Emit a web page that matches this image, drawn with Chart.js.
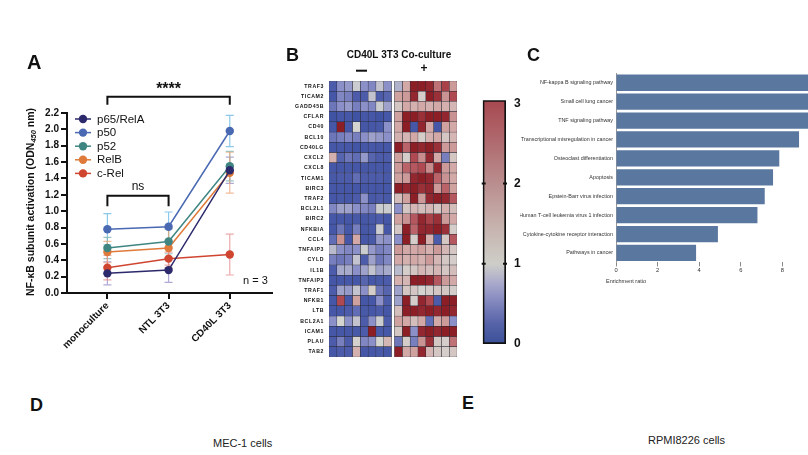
<!DOCTYPE html>
<html><head><meta charset="utf-8">
<script src="https://cdn.jsdelivr.net/npm/chart.js@4.4.1/dist/chart.umd.min.js"></script>
<style>
html,body{margin:0;padding:0;background:#fff;}
body{width:808px;height:455px;position:relative;overflow:hidden;font-family:"Liberation Sans",Arial,sans-serif;}
canvas{position:absolute;}
.lbl{position:absolute;font-weight:bold;color:#111;line-height:1;}
.cap{position:absolute;font-size:11px;color:#222;line-height:1;white-space:nowrap;}
</style></head><body>
<canvas id="cA" width="285" height="380" style="left:0px;top:0px"></canvas>
<canvas id="cB" width="200" height="330" style="left:270px;top:40px"></canvas>
<canvas id="cBar" width="55" height="275" style="left:470px;top:85px"></canvas>
<canvas id="cC" width="288" height="240" style="left:520px;top:60px"></canvas>
<div class="lbl" style="left:27px;top:52px;font-size:20px">A</div>
<div class="lbl" style="left:286px;top:46px;font-size:18px">B</div>
<div class="lbl" style="left:527px;top:46px;font-size:18px">C</div>
<div class="lbl" style="left:30px;top:396px;font-size:18px">D</div>
<div class="lbl" style="left:462px;top:394px;font-size:18px">E</div>
<div class="cap" style="left:213px;top:438px">MEC-1 cells</div>
<div class="cap" style="left:648px;top:435px">RPMI8226 cells</div>
<script>
// ---------- Panel A data ----------
const conditions = ['monoculture', 'NTL 3T3', 'CD40L 3T3'];
const subunits = ['p65/RelA', 'p50', 'p52', 'RelB', 'c-Rel'];
const p65RelA = [0.24, 0.28, 1.50];
const p50 = [0.78, 0.81, 1.98];
const p52 = [0.55, 0.63, 1.55];
const relB = [0.50, 0.55, 1.47];
const cRel = [0.31, 0.42, 0.47];
const p65RelAErr = [0.14, 0.15, 0.16];
const p50Err = [0.19, 0.18, 0.19];
const p52Err = [0.13, 0.15, 0.18];
const relBErr = [0.13, 0.24, 0.25];
const cRelErr = [0.15, 0.08, 0.25];
const yTicksA = [0, 0.2, 0.4, 0.6, 0.8, 1.0, 1.2, 1.4, 1.6, 1.8, 2.0, 2.2];
const sigBrackets = [
  {from: 0, to: 2, top: 2.40, leg: 2.30, label: '****'},
  {from: 0, to: 1, top: 1.19, leg: 1.06, label: 'ns'}
];

// ---------- Panel B data ----------
const genes = ['TRAF3','TICAM2','GADD45B','CFLAR','CD40','BCL10','CD40LG','CXCL2','CXCL8','TICAM1','BIRC3','TRAF2','BCL2L1','BIRC2','NFKBIA','CCL4','TNFAIP3','CYLD','IL1B','TNFAIP3','TRAF1','NFKB1','LTB','BCL2A1','ICAM1','PLAU','TAB2'];
const heatMinus = [
  [0.3,0.6,0.65,0.95,0.6,0.55,0.9,0.6],
  [0.2,0.55,0.5,0.3,0.3,0.9,0.3,0.35],
  [0.45,0.6,0.65,0.5,0.6,0.55,0.95,0.7],
  [0.15,0.2,0.2,0.15,0.2,0.2,0.15,0.2],
  [0.2,3.0,0.2,1.0,0.2,0.2,0.25,0.6],
  [0.45,0.5,0.55,0.5,0.6,0.7,0.65,0.6],
  [0.2,0.22,0.2,0.18,0.2,0.22,0.2,0.2],
  [1.5,0.35,0.45,0.4,0.65,0.35,0.3,0.3],
  [0.2,0.2,0.22,0.2,0.2,0.2,0.22,0.2],
  [0.25,0.3,0.3,0.4,0.3,0.3,0.3,0.25],
  [0.2,0.2,0.2,0.2,0.2,0.2,0.2,0.2],
  [0.2,0.25,0.2,0.3,0.6,0.25,0.3,0.25],
  [0.55,0.7,0.7,0.6,0.55,0.5,0.95,0.95],
  [0.2,0.2,0.2,0.25,0.2,0.25,0.3,0.2],
  [0.2,0.45,0.2,0.5,0.2,0.25,0.95,0.2],
  [0.4,1.9,0.2,1.6,0.2,0.25,0.65,0.6],
  [0.85,0.6,0.55,0.6,0.95,0.65,0.5,0.55],
  [0.5,0.45,0.5,0.9,0.3,0.7,0.45,0.55],
  [0.3,0.75,0.75,0.6,0.7,0.9,0.7,0.75],
  [0.2,0.2,0.2,0.2,0.35,0.2,0.25,0.3],
  [0.3,0.7,0.65,0.9,0.6,1.1,0.45,0.35],
  [0.2,2.5,0.2,1.7,0.2,0.2,0.6,0.3],
  [0.2,0.2,0.3,0.4,0.25,0.2,0.3,0.2],
  [0.6,1.0,0.6,0.9,0.3,0.6,0.95,0.3],
  [0.2,0.2,0.2,0.25,0.3,3.0,0.25,0.2],
  [0.3,0.5,0.3,1.05,0.55,0.6,1.0,1.4],
  [0.2,0.3,0.3,1.5,0.2,0.2,0.25,0.2]
];
const heatPlus = [
  [0.8,1.6,3,3,2.9,2.2,2.6,1.8],
  [1.7,1.8,2.9,1.1,3,2.8,1.9,2.5],
  [1.2,1.6,1.5,1.6,1.5,1.6,1.5,1.4],
  [1.7,3,3,2.8,3,3,2.9,1.9],
  [1.6,3,0.2,2.9,1.6,0.2,1.7,1.6],
  [1.5,1.4,1.6,1.1,1.5,1.6,1.2,1.4],
  [3,2.3,3,2.9,3,2.8,1.8,1.8],
  [1.7,1.1,2.5,2.0,2.9,1.6,0.5,1.2],
  [1.8,2.3,2.4,2.5,2.0,2.9,1.8,1.6],
  [1.7,1.8,2.9,3,2.9,2.3,1.9,1.6],
  [3,2.9,3,2.8,2.9,1.8,2.3,1.7],
  [1.3,1.7,3,1.8,2.9,3,2.9,2.4],
  [0.6,1.2,1.4,1.3,1.4,1.2,1.5,1.3],
  [1.7,1.9,2.4,2.9,2.6,2.8,1.8,1.6],
  [1.2,3,2.3,2.9,2.9,3,2.8,1.1],
  [0.6,3,1.1,3,1.5,0.3,1.2,2.4],
  [1.8,1.6,1.6,1.7,1.5,1.8,1.4,1.2],
  [1.6,1.5,1.6,1.5,1.8,1.4,1.2,1.1],
  [0.85,1.1,1.2,1.4,1.3,1.4,1.2,1.3],
  [1.5,1.4,3,3,2.9,2.4,1.8,1.6],
  [0.7,1.2,1.2,1.0,1.1,1.2,1.2,1.1],
  [0.7,3,1.1,2.9,2.5,0.3,3,3],
  [1.3,3,3,2.9,3,2.9,3,2.9],
  [1.7,1.6,1.3,1.6,0.4,1.6,1.8,0.6],
  [1.2,3,0.6,2.9,3,2.9,3,3],
  [0.45,1.1,0.5,1.9,2.8,1.2,1.1,2.2],
  [3,1.6,1.7,2.9,1.4,1.2,1.1,1.2]
];
const colorbarTicks = [0, 1, 2, 3];

// ---------- Panel C data ----------
const pathways = ['NF-kappa B signaling pathway','Small cell lung cancer','TNF signaling pathway','Transcriptional misregulation in cancer','Osteoclast differentiation','Apoptosis','Epstein-Barr virus infection','Human T-cell leukemia virus 1 infection','Cytokine-cytokine receptor interaction','Pathways in cancer'];
const enrichmentRatio = [10.5, 10.3, 10.0, 8.8, 7.85, 7.55, 7.15, 6.8, 4.9, 3.85];
const enrichTicks = [0, 2, 4, 6, 8];

const FONT = '"Liberation Sans", Arial, sans-serif';

// ================= Panel A =================
const seriesA = [p65RelA, p50, p52, relB, cRel];
const errA = [p65RelAErr, p50Err, p52Err, relBErr, cRelErr];
const colA = ['#2c2a6c', '#4a69b3', '#3f8683', '#df7a3a', '#cf4530'];
const errColA = ['rgba(150,140,200,0.75)', 'rgba(120,190,230,0.85)', 'rgba(120,180,175,0.75)', 'rgba(235,165,120,0.75)', 'rgba(230,140,140,0.75)'];

const plugA = {
  id: 'plugA',
  beforeDatasetsDraw(chart) {
    const ctx = chart.ctx, xs = chart.scales.x, ys = chart.scales.y;
    ctx.save();
    ctx.lineWidth = 1.2;
    seriesA.forEach((s, i) => {
      ctx.strokeStyle = errColA[i];
      s.forEach((v, j) => {
        const x = xs.getPixelForValue(j);
        const y1 = ys.getPixelForValue(v + errA[i][j]);
        const y2 = ys.getPixelForValue(v - errA[i][j]);
        ctx.beginPath();
        ctx.moveTo(x, y1); ctx.lineTo(x, y2);
        ctx.moveTo(x - 4, y1); ctx.lineTo(x + 4, y1);
        ctx.moveTo(x - 4, y2); ctx.lineTo(x + 4, y2);
        ctx.stroke();
      });
    });
    ctx.restore();
  },
  afterDraw(chart) {
    const ctx = chart.ctx, xs = chart.scales.x, ys = chart.scales.y;
    ctx.save();
    ctx.strokeStyle = '#111'; ctx.lineWidth = 2; ctx.fillStyle = '#111';
    sigBrackets.forEach(b => {
      const x1 = xs.getPixelForValue(b.from), x2 = xs.getPixelForValue(b.to);
      const yt = ys.getPixelForValue(b.top), yl = ys.getPixelForValue(b.leg);
      ctx.beginPath();
      ctx.moveTo(x1, yl); ctx.lineTo(x1, yt); ctx.lineTo(x2, yt); ctx.lineTo(x2, yl);
      ctx.stroke();
      ctx.textAlign = 'center'; ctx.textBaseline = 'alphabetic';
      if (b.label === 'ns') {
        ctx.font = '12px ' + FONT;
        ctx.fillText(b.label, (x1 + x2) / 2, yt - 6);
      } else {
        ctx.font = 'bold 16px ' + FONT;
        ctx.fillText(b.label, (x1 + x2) / 2, yt - 3);
      }
    });
    ctx.textAlign = 'left'; ctx.textBaseline = 'middle';
    ctx.font = '11.5px ' + FONT;
    subunits.forEach((name, i) => {
      const y = 119 + i * 13.6;
      ctx.strokeStyle = colA[i]; ctx.lineWidth = 1.5;
      ctx.beginPath(); ctx.moveTo(75, y); ctx.lineTo(91, y); ctx.stroke();
      ctx.fillStyle = colA[i];
      ctx.beginPath(); ctx.arc(83, y, 4.2, 0, Math.PI * 2); ctx.fill();
      ctx.fillStyle = '#111';
      ctx.fillText(name, 97, y + 0.5);
    });
    ctx.font = '11px ' + FONT; ctx.textBaseline = 'alphabetic';
    ctx.fillText('n = 3', 243, 284);
    ctx.translate(31, 202);
    ctx.rotate(-Math.PI / 2);
    const p1 = 'NF-\u03baB subunit activation (ODN', p2 = '450', p3 = ' nm)';
    ctx.font = 'bold 10.5px ' + FONT;
    const w1 = ctx.measureText(p1).width, w3 = ctx.measureText(p3).width;
    ctx.font = 'italic bold 7.5px ' + FONT;
    const w2 = ctx.measureText(p2).width;
    let x0 = -(w1 + w2 + w3) / 2;
    ctx.textBaseline = 'middle';
    ctx.font = 'bold 10.5px ' + FONT;
    ctx.fillText(p1, x0, 0);
    ctx.font = 'italic bold 7.5px ' + FONT;
    ctx.fillText(p2, x0 + w1, 3);
    ctx.font = 'bold 10.5px ' + FONT;
    ctx.fillText(p3, x0 + w1 + w2, 0);
    ctx.restore();
  }
};

new Chart(document.getElementById('cA'), {
  type: 'line',
  data: {
    datasets: seriesA.map((s, i) => ({
      label: subunits[i],
      data: s.map((v, j) => ({x: j, y: v})),
      borderColor: colA[i], backgroundColor: colA[i],
      pointBackgroundColor: colA[i], pointBorderWidth: 0,
      pointRadius: 4.2, borderWidth: 1.5, clip: false
    }))
  },
  options: {
    responsive: false, animation: false,
    layout: {padding: {top: 113, right: 13, left: 0, bottom: 27}},
    plugins: {legend: {display: false}, tooltip: {enabled: false}},
    scales: {
      x: {
        type: 'linear', min: -0.66, max: 2.69,
        afterBuildTicks(s) { s.ticks = conditions.map((c, i) => ({value: i})); },
        afterFit(s) { s.height = 60; },
        ticks: {
          callback: v => conditions[v], minRotation: 45, maxRotation: 45, autoSkip: false,
          font: {family: FONT, size: 10, weight: 'bold'}, color: '#111', padding: 1
        },
        grid: {drawOnChartArea: false, drawTicks: true, tickLength: 6, color: '#111', lineWidth: 2},
        border: {display: true, color: '#111', width: 2}
      },
      y: {
        type: 'linear', min: 0, max: 2.2,
        afterBuildTicks(s) { s.ticks = yTicksA.map(v => ({value: v})); },
        afterFit(s) { s.width = 67; },
        ticks: {
          callback: v => v.toFixed(1), autoSkip: false,
          font: {family: FONT, size: 10, weight: 'bold'}, color: '#111', padding: 2
        },
        grid: {drawOnChartArea: false, drawTicks: true, tickLength: 6, color: '#111', lineWidth: 2},
        border: {display: true, color: '#111', width: 2}
      }
    }
  },
  plugins: [plugA]
});

// ================= Panel B heatmap =================
function lerpStops(stops, v) {
  if (v <= stops[0][0]) return stops[0][1];
  for (let i = 1; i < stops.length; i++) {
    if (v <= stops[i][0]) {
      const [a, ca] = stops[i - 1], [b, cb] = stops[i];
      const t = (v - a) / (b - a);
      return ca.map((c, k) => Math.round(c + (cb[k] - c) * t));
    }
  }
  return stops[stops.length - 1][1];
}
const heatStops = [
  [0, [54, 76, 158]], [0.3, [76, 92, 170]], [0.6, [140, 144, 200]], [1.0, [212, 212, 208]],
  [1.5, [212, 176, 174]], [2.0, [200, 140, 140]], [2.5, [176, 74, 82]], [3.0, [140, 30, 38]]
];
const heatColor = v => { const c = lerpStops(heatStops, v); return `rgb(${c[0]},${c[1]},${c[2]})`; };

const heatDatasets = [];
for (let c = 0; c < 8; c++) {
  heatDatasets.push({
    data: genes.map(() => 1), stack: 's',
    backgroundColor: genes.map((g, r) => heatColor(heatMinus[r][c])),
    borderColor: '#2a2a35', borderWidth: 0.5, borderSkipped: false
  });
}
heatDatasets.push({data: genes.map(() => 0.38), stack: 's', backgroundColor: 'rgba(0,0,0,0)', borderWidth: 0});
for (let c = 0; c < 8; c++) {
  heatDatasets.push({
    data: genes.map(() => 1), stack: 's',
    backgroundColor: genes.map((g, r) => heatColor(heatPlus[r][c])),
    borderColor: '#2a2a35', borderWidth: 0.5, borderSkipped: false
  });
}

const plugB = {
  id: 'plugB',
  beforeDraw(chart) { chart.ctx.letterSpacing = '0.6px'; },
  afterDraw(chart) {
    const ctx = chart.ctx;
    ctx.save();
    ctx.letterSpacing = '0px';
    ctx.fillStyle = '#111';
    ctx.textAlign = 'center'; ctx.textBaseline = 'middle';
    ctx.font = 'bold 10px ' + FONT;
    ctx.fillText('CD40L 3T3 Co-culture', 129, 15);
    ctx.fillRect(86, 29.7, 11, 2);
    ctx.font = 'bold 12px ' + FONT;
    ctx.fillText('+', 154, 29);
    ctx.restore();
  }
};

new Chart(document.getElementById('cB'), {
  type: 'bar',
  data: {labels: genes, datasets: heatDatasets},
  options: {
    indexAxis: 'y', responsive: false, animation: false,
    barPercentage: 1, categoryPercentage: 1,
    layout: {padding: {top: 41, bottom: 13, right: 13, left: 0}},
    plugins: {legend: {display: false}, tooltip: {enabled: false}},
    scales: {
      x: {stacked: true, display: false, min: 0, max: 16.38},
      y: {
        stacked: true,
        afterFit(s) { s.width = 59; },
        grid: {display: false, drawTicks: false},
        border: {display: false},
        ticks: {autoSkip: false, padding: 5, color: '#111', font: {family: FONT, size: 5.2, weight: 'bold'}}
      }
    }
  },
  plugins: [plugB]
});

// ================= Colorbar =================
const barStops = [
  [0, [58, 80, 152]], [0.25, [86, 98, 168]], [0.5, [126, 132, 188]], [0.75, [168, 168, 204]],
  [1.0, [206, 206, 200]], [1.5, [198, 176, 172]], [2.0, [186, 142, 142]], [2.5, [176, 108, 112]], [3.04, [168, 72, 80]]
];
const plugBar = {
  id: 'plugBar',
  afterDatasetsDraw(chart) {
    const ctx = chart.ctx, ys = chart.scales.y, ca = chart.chartArea;
    ctx.save();
    ctx.strokeStyle = '#111'; ctx.lineWidth = 2;
    [1, 2].forEach(v => {
      const y = ys.getPixelForValue(v);
      ctx.beginPath();
      ctx.moveTo(ca.left - 1, y); ctx.lineTo(ca.left + 3, y);
      ctx.moveTo(ca.right - 3, y); ctx.lineTo(ca.right + 1, y);
      ctx.stroke();
    });
    ctx.restore();
  }
};
new Chart(document.getElementById('cBar'), {
  type: 'bar',
  data: {labels: [''], datasets: [{
    data: [[0, 3.04]],
    backgroundColor(c) {
      const ch = c.chart, ys = ch.scales.y;
      if (!ch.chartArea || !ys) return '#ccc';
      const y0 = ys.getPixelForValue(0), y3 = ys.getPixelForValue(3.04);
      const g = ch.ctx.createLinearGradient(0, y0, 0, y3);
      barStops.forEach(s => g.addColorStop(s[0] / 3.04, `rgb(${s[1].join(',')})`));
      return g;
    },
    borderColor: '#111', borderWidth: 2, borderSkipped: false
  }]},
  options: {
    responsive: false, animation: false,
    barPercentage: 1, categoryPercentage: 1,
    layout: {padding: {left: 12.7, top: 11.7, bottom: 16, right: 0}},
    plugins: {legend: {display: false}, tooltip: {enabled: false}},
    scales: {
      x: {display: false},
      y: {
        position: 'right', min: 0, max: 3.04,
        afterBuildTicks(s) { s.ticks = colorbarTicks.map(v => ({value: v})); },
        afterFit(s) { s.width = 19; },
        grid: {display: false, drawTicks: false}, border: {display: false},
        ticks: {padding: 8, color: '#111', font: {family: FONT, size: 12, weight: 'bold'}}
      }
    }
  },
  plugins: [plugBar]
});

// ================= Panel C =================
const plugC = {
  id: 'plugC',
  afterDraw(chart) {
    const ctx = chart.ctx;
    ctx.save();
    ctx.fillStyle = '#333'; ctx.font = '5.5px ' + FONT;
    ctx.textAlign = 'left'; ctx.textBaseline = 'middle';
    ctx.fillText('Enrichment ratio', 86, 221);
    ctx.restore();
  }
};
new Chart(document.getElementById('cC'), {
  type: 'bar',
  data: {labels: pathways, datasets: [{data: enrichmentRatio, backgroundColor: '#5a789f', borderWidth: 0}]},
  options: {
    indexAxis: 'y', responsive: false, animation: false,
    barPercentage: 1, categoryPercentage: 0.86,
    layout: {padding: {top: 13.3, left: 0, right: 0, bottom: 0}},
    plugins: {legend: {display: false}, tooltip: {enabled: false}},
    scales: {
      x: {
        min: 0, max: 9.23,
        afterBuildTicks(s) { s.ticks = enrichTicks.map(v => ({value: v})); },
        afterFit(s) { s.height = 37.6; },
        grid: {drawOnChartArea: false, drawTicks: true, tickLength: 4, color: '#888'},
        border: {display: false},
        ticks: {padding: 1, color: '#333', font: {family: FONT, size: 5.8}}
      },
      y: {
        afterFit(s) { s.width = 96; },
        grid: {display: false, drawTicks: false},
        border: {display: true, color: '#999', width: 1},
        ticks: {autoSkip: false, padding: 3, color: '#333', font: {family: FONT, size: 5.4}}
      }
    }
  },
  plugins: [plugC]
});
</script>
</body></html>
